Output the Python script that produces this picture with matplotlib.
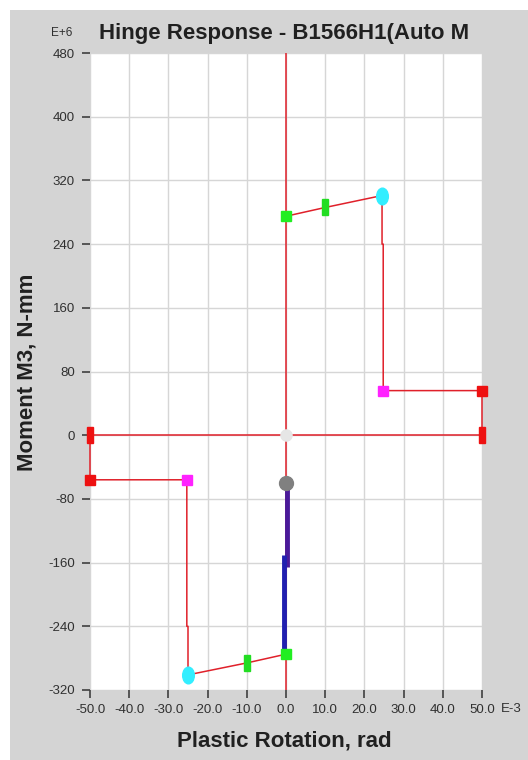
import matplotlib
matplotlib.use("Agg")
import matplotlib.pyplot as plt
from matplotlib.markers import MarkerStyle
from matplotlib.transforms import Affine2D
from matplotlib.patches import Rectangle

plt.rcParams['font.family'] = ['Liberation Sans', 'DejaVu Sans']

# backbone curve (rotation E-3 rad, moment E+6 N-mm)
pos_rot = [0, 10, 24.5, 24.5, 24.8, 24.8, 50, 50]
pos_mom = [275, 286, 301, 240, 240, 56, 56, 0]
neg_rot = [0, -10, -25, -25, -25.3, -25.3, -50, -50]
neg_mom = [-275, -286, -301, -240, -240, -56, -56, 0]

# response path
resp_rot_a = [0.2, 0.2]
resp_mom_a = [-62, -165]
resp_rot_b = [-0.4, -0.4]
resp_mom_b = [-150, -272]

# hinge state points
io_rot = [0, 0]
io_mom = [275, -275]
ls_rot = [10, -10]
ls_mom = [286, -286]
cp_rot = [24.6, -25]
cp_mom = [301, -301]
c_rot = [24.8, -25.3]
c_mom = [56, -56]
d_rot = [50, -50]
d_mom = [56, -56]
e_rot = [50, -50]
e_mom = [0, 0]
cur_rot = [0]
cur_mom = [-60]

x_ticks = [-50, -40, -30, -20, -10, 0, 10, 20, 30, 40, 50]
y_ticks = [-320, -240, -160, -80, 0, 80, 160, 240, 320, 400, 480]

fig = plt.figure(figsize=(5.28, 7.6), dpi=100)
fig.patch.set_facecolor('white')
bg = Rectangle((10 / 528, 0), 1, 1 - 10 / 760, transform=fig.transFigure,
               facecolor='#d4d4d4', edgecolor='none', zorder=-10)
fig.add_artist(bg)

ax = fig.add_axes([90 / 528, 1 - 690 / 760, 392 / 528, 637 / 760])
ax.set_zorder(1)
ax.set_facecolor('white')
ax.set_xlim(-50, 50)
ax.set_ylim(-320, 480)
for s in ax.spines.values():
    s.set_visible(False)
ax.set_xticks(x_ticks)
ax.set_yticks(y_ticks)
ax.set_xticklabels(['%.1f' % v for v in x_ticks], fontsize=9.5, color='#303030')
ax.set_yticklabels([str(v) for v in y_ticks], fontsize=9.5, color='#303030')
ax.tick_params(axis='x', length=6, width=1.2, color='#404040', pad=4)
ax.tick_params(axis='y', length=6, width=1.2, color='#404040', pad=5)
ax.grid(True, color='#d6d6d6', linewidth=1)
ax.set_axisbelow(True)

red = '#e0202a'
ax.plot([-50, 50], [0, 0], color=red, lw=1.1, zorder=2, clip_on=False)
ax.plot([0, 0], [-320, 480], color=red, lw=1.1, zorder=2)
ax.plot(pos_rot, pos_mom, color=red, lw=1.1, zorder=2, clip_on=False)
ax.plot(neg_rot, neg_mom, color=red, lw=1.1, zorder=2, clip_on=False)

ax.plot(resp_rot_a, resp_mom_a, color='#4a1a9a', lw=3.5, zorder=3, solid_capstyle='butt')
ax.plot(resp_rot_b, resp_mom_b, color='#2020b0', lw=3.5, zorder=3, solid_capstyle='butt')

bar = MarkerStyle('s', transform=Affine2D().scale(0.35, 1.0))
oval = MarkerStyle('o', transform=Affine2D().scale(0.7, 1.0))

ax.plot(0, 0, 'o', ms=8, color='#e6e6e6', zorder=4, clip_on=False)
ax.plot(io_rot, io_mom, 's', ms=7, color='#22ee22', ls='none', zorder=4)
ax.plot(ls_rot, ls_mom, marker=bar, ms=12, color='#22dd22', ls='none', zorder=4)
ax.plot(cp_rot, cp_mom, marker=oval, ms=12, color='#33eeff', ls='none', zorder=4)
ax.plot(c_rot, c_mom, 's', ms=7, color='#ff22ff', ls='none', zorder=4)
ax.plot(d_rot, d_mom, 's', ms=7, color='#ee1111', ls='none', zorder=4, clip_on=False)
ax.plot(e_rot, e_mom, marker=bar, ms=12, color='#ee1111', ls='none', zorder=4, clip_on=False)
ax.plot(cur_rot, cur_mom, 'o', ms=10, color='#808080', zorder=5)

fig.text(284 / 528, 1 - 34 / 760, 'Hinge Response - B1566H1(Auto M', ha='center', va='center',
         fontsize=16, fontweight='bold', color='#202020')
fig.text(62 / 528, 1 - 33 / 760, 'E+6', ha='center', va='center', fontsize=8.5, color='#303030')
fig.text(511 / 528, 1 - 709 / 760, 'E-3', ha='center', va='center', fontsize=9.5, color='#303030')
fig.text(284 / 528, 1 - 741 / 760, 'Plastic Rotation, rad', ha='center', va='center',
         fontsize=16, fontweight='bold', color='#202020')
fig.text(27 / 528, 1 - 372 / 760, 'Moment M3, N-mm', ha='center', va='center', rotation=90,
         fontsize=16, fontweight='bold', color='#202020')

fig.savefig('out.png', dpi=100)
